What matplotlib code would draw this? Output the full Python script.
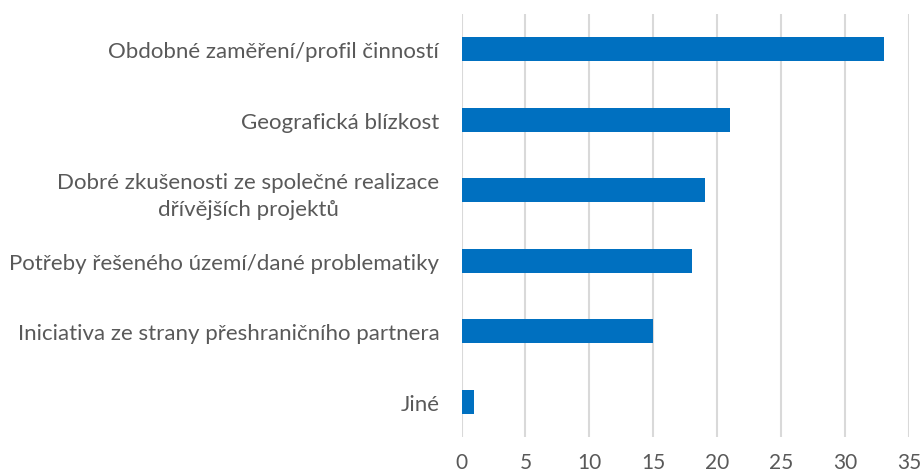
import matplotlib
matplotlib.use('Agg')
import matplotlib.pyplot as plt

# categories listed bottom to top
categories = [
    'Jiné',
    'Iniciativa ze strany přeshraničního partnera',
    'Potřeby řešeného území/dané problematiky',
    'Dobré zkušenosti ze společné realizace\ndřívějších projektů',
    'Geografická blízkost',
    'Obdobné zaměření/profil činností',
]
counts = [1, 15, 18, 19, 21, 33]
x_ticks = [0, 5, 10, 15, 20, 25, 30, 35]

plt.rcParams['font.family'] = ['Lato', 'DejaVu Sans']
text_color = '#595959'

fig = plt.figure(figsize=(9.23, 4.77), dpi=100)
ax = fig.add_axes([0.5, 0.082, 0.485, 0.887])

ax.barh(range(len(categories)), counts, height=0.34, color='#0070C0', zorder=3)

ax.set_xlim(0, 35)
ax.set_ylim(-0.5, len(categories) - 0.5)
ax.set_xticks(x_ticks)
ax.set_yticks(range(len(categories)))
ax.set_yticklabels(categories, ha='right', multialignment='center', linespacing=1.45)
ax.tick_params(axis='y', pad=16, length=0, labelsize=16, labelcolor=text_color)
ax.tick_params(axis='x', length=0, pad=11, labelsize=15, labelcolor=text_color)

ax.grid(axis='x', color='#d9d9d9', linewidth=1.5, zorder=0)
for s in ax.spines.values():
    s.set_visible(False)

fig.savefig('out.png', dpi=100)
